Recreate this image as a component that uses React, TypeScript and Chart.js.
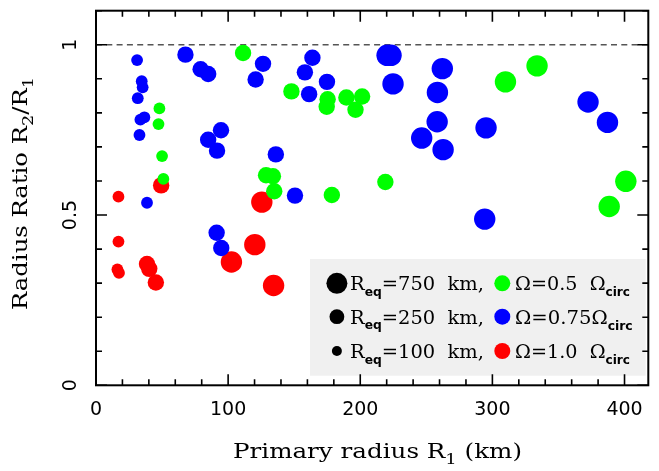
import React, { useEffect, useRef } from "react";
import { Chart, registerables } from "chart.js";

Chart.register(...registerables);

// ---- data (R1 km, R2/R1, Req km) ----
const GREEN_X = [48.0, 47.3, 50.0, 51.0, 111.3, 147.9, 175.3, 174.6, 189.5, 201.4, 196.4, 128.7, 133.9, 134.9, 178.5, 219.0, 309.9, 333.8, 401.0, 388.4];
const GREEN_Y = [0.813, 0.767, 0.673, 0.606, 0.976, 0.863, 0.840, 0.818, 0.845, 0.848, 0.809, 0.617, 0.614, 0.570, 0.559, 0.597, 0.891, 0.938, 0.599, 0.525];
const GREEN_REQ = [100, 100, 100, 100, 250, 250, 250, 250, 250, 250, 250, 250, 250, 250, 250, 250, 750, 750, 750, 750];

const BLUE_X = [31.1, 34.6, 35.3, 31.6, 36.6, 33.6, 32.9, 38.6, 67.7, 79.2, 84.9, 94.6, 84.9, 91.6, 91.3, 94.8, 126.4, 120.8, 163.8, 158.1, 174.8, 161.3, 136.1, 150.6, 220.3, 223.3, 224.8, 262.1, 258.4, 258.2, 246.5, 262.7, 295.2, 294.2, 372.4, 387.1];
const BLUE_Y = [0.955, 0.893, 0.875, 0.843, 0.787, 0.780, 0.735, 0.536, 0.971, 0.928, 0.914, 0.749, 0.721, 0.689, 0.448, 0.403, 0.944, 0.898, 0.962, 0.919, 0.891, 0.855, 0.678, 0.557, 0.969, 0.969, 0.885, 0.930, 0.860, 0.774, 0.726, 0.692, 0.756, 0.488, 0.832, 0.772];
const BLUE_REQ = [100, 100, 100, 100, 100, 100, 100, 100, 250, 250, 250, 250, 250, 250, 250, 250, 250, 250, 250, 250, 250, 250, 250, 250, 750, 750, 750, 750, 750, 750, 750, 750, 750, 750, 750, 750];

const RED_X = [17.0, 17.0, 16.2, 17.4, 49.3, 38.6, 40.3, 45.3, 125.5, 120.2, 102.5, 134.4];
const RED_Y = [0.554, 0.422, 0.340, 0.330, 0.587, 0.356, 0.342, 0.302, 0.538, 0.413, 0.362, 0.293];
const RED_REQ = [100, 100, 100, 100, 250, 250, 250, 250, 750, 750, 750, 750];

const X_MAJOR = [0, 100, 200, 300, 400];
const X_LABELS = ["0", "100", "200", "300", "400"];
const X_MINOR_STEP = 20;
const Y_MAJOR = [0, 0.5, 1];
const Y_LABELS = ["0", "0.5", "1"];
const Y_MINOR_STEP = 0.1;
const REF_LINE = 1;

const LEGEND_REQ = [750, 250, 100];
const LEGEND_REQ_TEXT = ["=750  km,", "=250  km,", "=100  km,"];
const LEGEND_OMEGA_TEXT = ["Ω=0.5  Ω", "Ω=0.75Ω", "Ω=1.0  Ω"];

const GREEN = "#00ff00";
const BLUE = "#0000ff";
const RED = "#ff0000";
const LEGEND_COLORS = [GREEN, BLUE, RED];

const POINT_RADIUS: Record<number, number> = { 100: 5.9, 250: 8.2, 750: 10.7 };
const LEGEND_RADIUS: Record<number, number> = { 750: 10.5, 250: 7.4, 100: 5 };

type Seg = { t: string; sub?: boolean };

function drawRich(
  ctx: CanvasRenderingContext2D,
  segs: Seg[],
  x: number,
  y: number,
  mainFont: string,
  subFont: string,
  subDy: number,
  targetW?: number
) {
  let w = 0;
  const widths: number[] = [];
  for (const s of segs) {
    ctx.font = s.sub ? subFont : mainFont;
    const m = ctx.measureText(s.t).width;
    widths.push(m);
    w += m;
  }
  const sx = targetW ? targetW / w : 1;
  ctx.save();
  ctx.translate(x, y);
  ctx.scale(sx, 1);
  ctx.textAlign = "left";
  ctx.textBaseline = "alphabetic";
  let cx = 0;
  segs.forEach((s, i) => {
    ctx.font = s.sub ? subFont : mainFont;
    ctx.fillText(s.t, cx, s.sub ? subDy : 0);
    cx += widths[i];
  });
  ctx.restore();
}

const framePlugin = {
  id: "framePlugin",
  beforeDatasetsDraw(chart: any) {
    const { ctx, chartArea, scales } = chart;
    const yp = scales.y.getPixelForValue(REF_LINE);
    ctx.save();
    ctx.strokeStyle = "#555";
    ctx.lineWidth = 1.5;
    ctx.setLineDash([6, 4.3]);
    ctx.beginPath();
    ctx.moveTo(chartArea.left, yp);
    ctx.lineTo(chartArea.right, yp);
    ctx.stroke();
    ctx.restore();
  },
  afterDatasetsDraw(chart: any) {
    const { ctx, chartArea, scales } = chart;
    const { left, right, top, bottom } = chartArea;
    const xs = scales.x;
    const ys = scales.y;
    ctx.save();

    // legend box
    ctx.fillStyle = "#f0f0f0";
    ctx.fillRect(310, 259, 335.7, 116.7);
    const rowsY = [283.3, 316.7, 351];
    const lf = "19px 'DejaVu Serif'";
    const sf = "bold 12px 'DejaVu Sans'";
    rowsY.forEach((cy, i) => {
      ctx.fillStyle = "#000";
      ctx.beginPath();
      ctx.arc(336.9, cy, LEGEND_RADIUS[LEGEND_REQ[i]], 0, Math.PI * 2);
      ctx.fill();
      drawRich(ctx, [{ t: "R" }, { t: "eq", sub: true }, { t: LEGEND_REQ_TEXT[i] }], 350, cy + 7, lf, sf, 5.5, 134);
      ctx.fillStyle = LEGEND_COLORS[i];
      ctx.beginPath();
      ctx.arc(502.3, cy, 8, 0, Math.PI * 2);
      ctx.fill();
      ctx.fillStyle = "#000";
      drawRich(ctx, [{ t: LEGEND_OMEGA_TEXT[i] }, { t: "circ", sub: true }], 515, cy + 7, lf, sf, 6, i === 1 ? 117.7 : 115);
    });

    // frame
    ctx.strokeStyle = "#000";
    ctx.lineWidth = 2;
    ctx.setLineDash([]);
    ctx.strokeRect(left, top, right - left, bottom - top);

    // ticks
    ctx.lineWidth = 1.6;
    const MAJ = 11;
    const MIN = 6;
    ctx.beginPath();
    const xmax = xs.max;
    for (let v = 0; v <= xmax + 1e-9; v += X_MINOR_STEP) {
      const p = xs.getPixelForValue(v);
      const len = X_MAJOR.some((m) => Math.abs(m - v) < 1e-6) ? MAJ : MIN;
      ctx.moveTo(p, bottom);
      ctx.lineTo(p, bottom - len);
      ctx.moveTo(p, top);
      ctx.lineTo(p, top + len);
    }
    const ymax = ys.max;
    for (let k = 0; k * Y_MINOR_STEP <= ymax + 1e-9; k++) {
      const v = k * Y_MINOR_STEP;
      const p = ys.getPixelForValue(v);
      const len = Y_MAJOR.some((m) => Math.abs(m - v) < 1e-6) ? MAJ : MIN;
      ctx.moveTo(left, p);
      ctx.lineTo(left + len, p);
      ctx.moveTo(right, p);
      ctx.lineTo(right - len, p);
    }
    ctx.stroke();

    // tick labels
    ctx.fillStyle = "#000";
    ctx.font = "19px 'DejaVu Sans'";
    ctx.textAlign = "center";
    ctx.textBaseline = "middle";
    X_MAJOR.forEach((v, i) => {
      ctx.fillText(X_LABELS[i], xs.getPixelForValue(v), 410.5);
    });
    Y_MAJOR.forEach((v, i) => {
      ctx.save();
      ctx.translate(71, ys.getPixelForValue(v));
      ctx.rotate(-Math.PI / 2);
      ctx.fillText(Y_LABELS[i], 0, 0);
      ctx.restore();
    });

    // axis titles
    const tf = "20.5px 'DejaVu Serif'";
    const tsf = "15px 'DejaVu Serif'";
    drawRich(ctx, [{ t: "Primary radius R" }, { t: "1", sub: true }, { t: " (km)" }], 233, 457.5, tf, tsf, 6, 289);
    ctx.save();
    ctx.translate(26.7, 310);
    ctx.rotate(-Math.PI / 2);
    drawRich(ctx, [{ t: "Radius Ratio R" }, { t: "2", sub: true }, { t: "/R" }, { t: "1", sub: true }], 0, 0, tf, tsf, 6, 233);
    ctx.restore();

    ctx.restore();
  },
};

function makeDataset(label: string, xs: number[], ys: number[], req: number[], color: string) {
  return {
    label,
    data: xs.map((x, i) => ({ x, y: ys[i] })),
    pointRadius: req.map((r) => POINT_RADIUS[r]),
    pointHoverRadius: req.map((r) => POINT_RADIUS[r]),
    pointBackgroundColor: color,
    pointBorderColor: color,
    pointBorderWidth: 0,
    showLine: false,
  };
}

export default function App() {
  const ref = useRef<HTMLCanvasElement | null>(null);
  useEffect(() => {
    if (!ref.current) return;
    const chart = new Chart(ref.current, {
      type: "scatter",
      data: {
        datasets: [
          makeDataset("Ω=0.5 Ωcirc", GREEN_X, GREEN_Y, GREEN_REQ, GREEN),
          makeDataset("Ω=0.75 Ωcirc", BLUE_X, BLUE_Y, BLUE_REQ, BLUE),
          makeDataset("Ω=1.0 Ωcirc", RED_X, RED_Y, RED_REQ, RED),
        ] as any,
      },
      options: {
        animation: false,
        responsive: false,
        devicePixelRatio: 1,
        layout: { padding: { left: 96, right: 3, top: 8, bottom: 85.7 } },
        plugins: { legend: { display: false }, tooltip: { enabled: false } },
        events: [],
        scales: {
          x: { type: "linear", min: 0, max: 418, display: false },
          y: { type: "linear", min: 0, max: 1.1, display: false },
        },
      } as any,
      plugins: [framePlugin],
    });
    return () => chart.destroy();
  }, []);
  return (
    <div style={{ position: "absolute", left: 0, top: 0, width: 659, height: 471, background: "#fff" }}>
      <canvas ref={ref} width={659} height={471} style={{ display: "block" }} />
    </div>
  );
}
